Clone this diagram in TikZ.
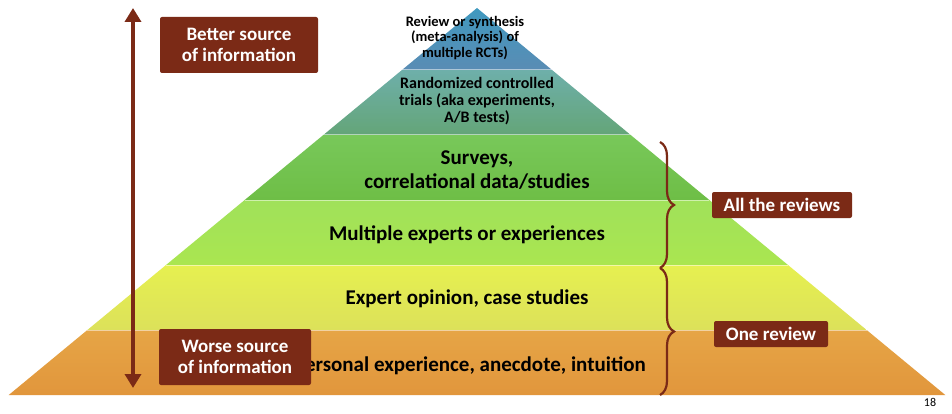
\documentclass[tikz,border=0pt]{standalone}
\usepackage{fontspec}
\setmainfont{Carlito}
\usetikzlibrary{decorations.pathreplacing,arrows.meta}
\definecolor{dred}{HTML}{7B2A16}
\begin{document}
\begin{tikzpicture}[x=1pt,y=-1pt,
  lab/.style={font=\bfseries\fontsize{21}{24}\selectfont,align=center,text=black},
  slab/.style={font=\bfseries\fontsize{16}{17}\selectfont,align=center,text=black},
  tag/.style={fill=dred,text=white,font=\bfseries\fontsize{19}{21}\selectfont,align=center,rounded corners=2pt,inner sep=4pt},
  brace/.style={draw=dred,line width=2.2pt,decorate,decoration={brace,amplitude=14pt}}]
\useasboundingbox (0,0) rectangle (952,414);
\fill[white] (0,0) rectangle (952,414);
\def\L#1{{477-(#1-8)*1.21}}
\def\R#1{{477+(#1-8)*1.21}}
\shade[top color=blue!30!cyan!50!gray,bottom color={rgb,255:red,90;green,140;blue,180}] (477,8) -- ({\R{70}},70) -- ({\L{70}},70) -- cycle;
\shade[top color={rgb,255:red,110;green,175;blue,170},bottom color={rgb,255:red,100;green,165;blue,120}] ({\L{70}},70) -- ({\R{70}},70) -- ({\R{135}},135) -- ({\L{135}},135) -- cycle;
\shade[top color={rgb,255:red,120;green,200;blue,90},bottom color={rgb,255:red,110;green,190;blue,70}] ({\L{135}},135) -- ({\R{135}},135) -- ({\R{200}},200) -- ({\L{200}},200) -- cycle;
\shade[top color={rgb,255:red,160;green,225;blue,90},bottom color={rgb,255:red,170;green,230;blue,80}] ({\L{200}},200) -- ({\R{200}},200) -- ({\R{265}},265) -- ({\L{265}},265) -- cycle;
\shade[top color={rgb,255:red,230;green,240;blue,80},bottom color={rgb,255:red,220;green,225;blue,90}] ({\L{265}},265) -- ({\R{265}},265) -- ({\R{330}},330) -- ({\L{330}},330) -- cycle;
\shade[top color={rgb,255:red,230;green,165;blue,70},bottom color={rgb,255:red,225;green,150;blue,60}] ({\L{330}},330) -- ({\R{330}},330) -- ({\R{395}},395) -- ({\L{395}},395) -- cycle;
\foreach \y in {70,135,200,265,330}{\draw[white,opacity=0.5,line width=1pt] ({\L{\y}},\y) -- ({\R{\y}},\y);}
\node[font=\bfseries\fontsize{14.5}{15.5}\selectfont,align=center] (t1) at (465,38) {Review or synthesis\\(meta-analysis) of\\multiple RCTs)};
\node[slab] (t2) at (477,101) {Randomized controlled\\trials (aka experiments,\\A/B tests)};
\node[lab] (t3) at (477,170) {Surveys,\\correlational data/studies};
\node[lab] (t4) at (467,235) {Multiple experts or experiences};
\node[lab] (t5) at (467,299) {Expert opinion, case studies};
\node[lab] (t6) at (470,366) {Personal experience, anecdote, intuition};
\coordinate (atop) at (133,8);
\coordinate (abot) at (133,388);
\draw[dred,line width=4.5pt,{Triangle[length=14pt,width=16pt]}-{Triangle[length=14pt,width=16pt]}] (atop) -- (abot);
\node[tag,minimum width=158pt,minimum height=56pt] (better) at (239,45) {Better source\\of information};
\node[tag,minimum width=152pt,minimum height=56pt] (worse) at (235,357) {Worse source\\of information};
\coordinate (b1) at (660,142);
\coordinate (b2) at (660,268);
\coordinate (b3) at (660,395);
\draw[brace] (b1) -- (b2);
\draw[brace] (b2) -- (b3);
\node[tag,inner sep=3pt,minimum width=140pt,minimum height=26pt] (all) at (782,205) {All the reviews};
\node[tag,inner sep=3pt,minimum width=114pt,minimum height=26pt] (one) at (771,334) {One review};
\node[font=\fontsize{12}{13}\selectfont] (pg) at (930,402) {18};
\end{tikzpicture}
\end{document}
